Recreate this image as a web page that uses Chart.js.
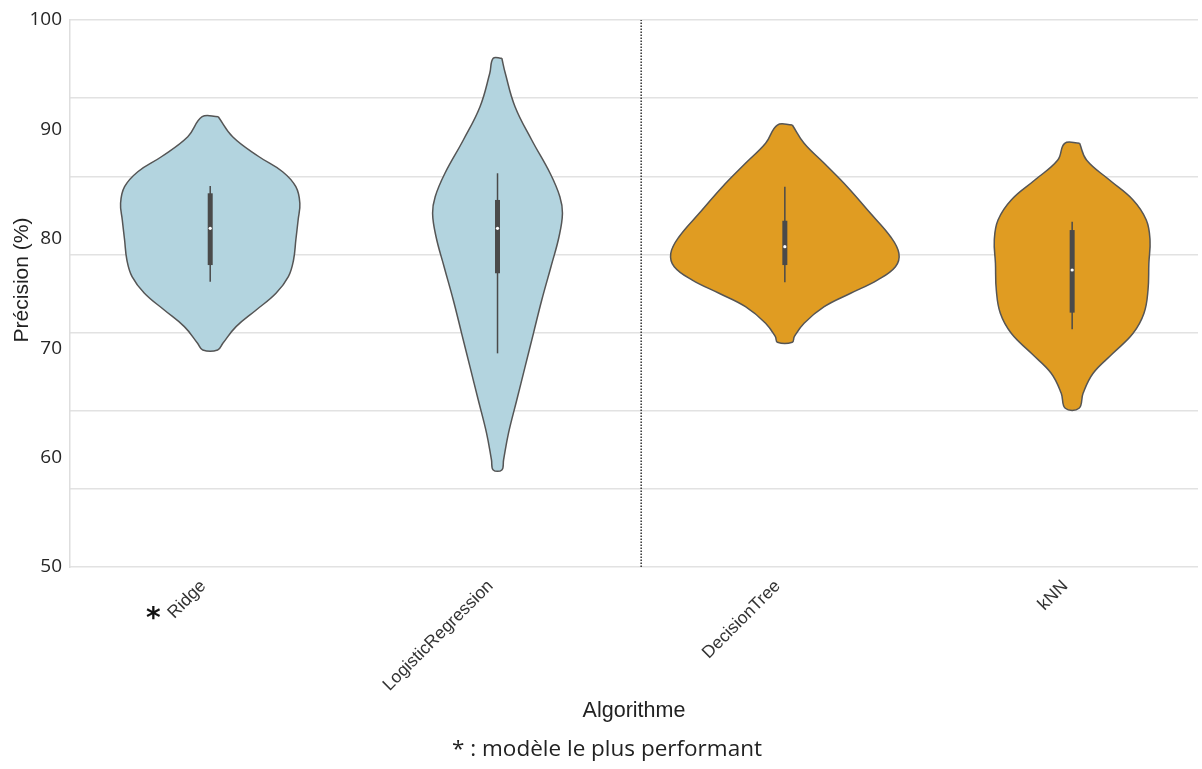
<!DOCTYPE html>
<html><head><meta charset="utf-8">
<script src="https://cdn.jsdelivr.net/npm/chart.js@4.4.1/dist/chart.umd.min.js"></script>
<style>html,body{margin:0;padding:0;background:#fff}#wrap{width:1202px;height:769px;position:relative}</style>
</head><body><div id="wrap"><canvas id="c"></canvas></div>
<script>
// ---- data ----
const categories = ['Ridge', 'LogisticRegression', 'DecisionTree', 'kNN'];
const yTicks = [50, 60, 70, 80, 90, 100];
// violin outlines: precision value (%) and density half-width (in category units)
const ridgeY = [91.16, 89.33, 87.50, 86.13, 84.76, 83.25, 81.72, 79.89, 78.06, 76.54, 75.02, 73.49, 71.97, 70.45, 69.84];
const ridgeW = [0.028, 0.078, 0.170, 0.252, 0.298, 0.312, 0.306, 0.298, 0.290, 0.272, 0.229, 0.160, 0.090, 0.044, 0.026];
const logregY = [96.50, 95.13, 92.07, 89.03, 85.99, 83.85, 82.33, 80.19, 77.45, 74.41, 71.36, 68.31, 65.27, 62.22, 59.78, 58.87];
const logregW = [0.015, 0.027, 0.061, 0.119, 0.183, 0.217, 0.226, 0.214, 0.186, 0.154, 0.125, 0.096, 0.067, 0.038, 0.021, 0.015];
const treeY = [90.40, 88.73, 86.90, 84.76, 82.33, 80.19, 78.67, 77.45, 76.23, 75.02, 73.79, 72.28, 71.05, 70.54];
const treeW = [0.026, 0.067, 0.137, 0.217, 0.298, 0.368, 0.397, 0.385, 0.322, 0.229, 0.137, 0.067, 0.033, 0.026];
const knnY = [88.73, 87.20, 85.37, 83.55, 81.72, 79.89, 77.76, 75.32, 73.19, 71.36, 69.53, 67.71, 65.88, 64.51];
const knnW = [0.026, 0.050, 0.130, 0.212, 0.258, 0.271, 0.267, 0.264, 0.250, 0.212, 0.142, 0.073, 0.038, 0.024];
// inner box plot
const q1 = [77.60, 76.85, 77.60, 73.25];
const q3 = [84.16, 83.55, 81.65, 80.80];
const whiskerLow = [76.08, 69.53, 76.02, 71.73];
const whiskerHigh = [84.83, 85.99, 84.76, 81.56];
const medians = [80.96, 80.96, 79.28, 77.15];

// ---- styling ----
const fills = ['#b3d4df', '#b3d4df', '#e09c22', '#e09c22'];
const outline = '#555555';
const boxColor = '#4a4a4a';
const profiles = [[ridgeY, ridgeW], [logregY, logregW], [treeY, treeW], [knnY, knnW]];

function violinPoints(i, ys, ws) {
  const pts = [];
  for (let k = 0; k < ys.length; k++) pts.push({x: i + ws[k], y: ys[k]});
  for (let k = ys.length - 1; k >= 0; k--) pts.push({x: i - ws[k], y: ys[k]});
  pts.push({x: i + ws[0], y: ys[0]});
  return pts;
}

const datasets = [];
// separator between the two groups
datasets.push({
  data: [{x: 1.5, y: yTicks[0]}, {x: 1.5, y: yTicks[yTicks.length - 1]}],
  borderColor: '#333', borderWidth: 1.5, borderDash: [1.5, 1.5],
  pointRadius: 0, fill: false, order: 6, tension: 0
});
profiles.forEach(([ys, ws], i) => {
  datasets.push({
    data: violinPoints(i, ys, ws),
    borderColor: outline, borderWidth: 1.5, backgroundColor: fills[i],
    fill: 'shape', pointRadius: 0, tension: 0.4, order: 5
  });
  datasets.push({
    data: [{x: i, y: whiskerLow[i]}, {x: i, y: whiskerHigh[i]}],
    borderColor: boxColor, borderWidth: 1.5, pointRadius: 0, fill: false, order: 4, tension: 0
  });
  datasets.push({
    data: [{x: i, y: q1[i]}, {x: i, y: q3[i]}],
    borderColor: boxColor, borderWidth: 5, borderCapStyle: 'butt', pointRadius: 0, fill: false, order: 3, tension: 0
  });
  datasets.push({
    data: [{x: i, y: medians[i]}],
    showLine: false, pointRadius: 1.6, pointBackgroundColor: '#ffffff', pointBorderWidth: 0,
    borderColor: '#ffffff', order: 1
  });
});

const textPlugin = {
  id: 'texts',
  afterDraw(chart) {
    const ctx = chart.ctx;
    const xs = chart.scales.x;
    ctx.save();
    // y axis title
    ctx.fillStyle = '#222';
    ctx.font = '21px "Liberation Sans", Arial, sans-serif';
    ctx.textAlign = 'center';
    ctx.textBaseline = 'middle';
    ctx.translate(22, 280);
    ctx.rotate(-Math.PI / 2);
    ctx.fillText('Précision (%)', 0, 0);
    ctx.restore();
    // asterisk next to best model
    ctx.save();
    ctx.fillStyle = '#111';
    ctx.font = 'bold 28px "DejaVu Sans", sans-serif';
    const m = ctx.measureText('*');
    const ax = xs.getPixelForValue(0) - 57;
    const ay = 613 + (m.actualBoundingBoxAscent - m.actualBoundingBoxDescent) / 2;
    ctx.textAlign = 'center';
    ctx.textBaseline = 'alphabetic';
    ctx.fillText('*', ax, ay);
    // footnote
    ctx.fillStyle = '#222';
    ctx.font = '22.5px "Open Sans", sans-serif';
    ctx.textAlign = 'center';
    ctx.textBaseline = 'middle';
    ctx.fillText('* : modèle le plus performant', 607, 750);
    ctx.restore();
  }
};

new Chart(document.getElementById('c'), {
  type: 'line',
  data: {datasets},
  plugins: [textPlugin],
  options: {
    responsive: true, maintainAspectRatio: false, animation: false,
    layout: {padding: {top: 20, right: 0, left: 0, bottom: 0}},
    plugins: {legend: {display: false}, tooltip: {enabled: false}},
    scales: {
      x: {
        type: 'linear', min: -0.488, max: 3.438,
        afterBuildTicks: s => { s.ticks = categories.map((_, i) => ({value: i})); },
        afterFit: s => { s.height = 202; },
        grid: {display: false, drawTicks: false},
        border: {display: false},
        ticks: {
          autoSkip: false, minRotation: 45, maxRotation: 45, padding: 9, labelOffset: -7,
          color: '#333', font: {family: '"Liberation Sans", Arial, sans-serif', size: 17.5},
          callback: v => categories[v] ?? ''
        },
        title: {display: true, text: 'Algorithme', color: '#222',
          font: {family: '"Liberation Sans", Arial, sans-serif', size: 21.5},
          padding: {top: 0, bottom: 45}}
      },
      y: {
        type: 'linear', position: 'left', min: yTicks[0], max: yTicks[yTicks.length - 1],
        afterBuildTicks: s => { s.ticks = yTicks.map(v => ({value: v})); },
        afterFit: s => { s.width = 70; },
        grid: {display: false, drawTicks: false},
        border: {display: true, color: '#dedede', width: 1.5},
        ticks: {padding: 8, color: '#262626', font: {family: '"Open Sans", sans-serif', size: 19}}
      },
      yg: {
        type: 'linear', position: 'left', min: 0, max: 7,
        afterBuildTicks: s => { s.ticks = [0,1,2,3,4,5,6,7].map(v => ({value: v})); },
        afterFit: s => { s.width = 0; },
        grid: {display: true, color: '#e2e2e2', lineWidth: 1.5, drawTicks: false},
        border: {display: false},
        ticks: {display: false}
      }
    }
  }
});
</script></body></html>
